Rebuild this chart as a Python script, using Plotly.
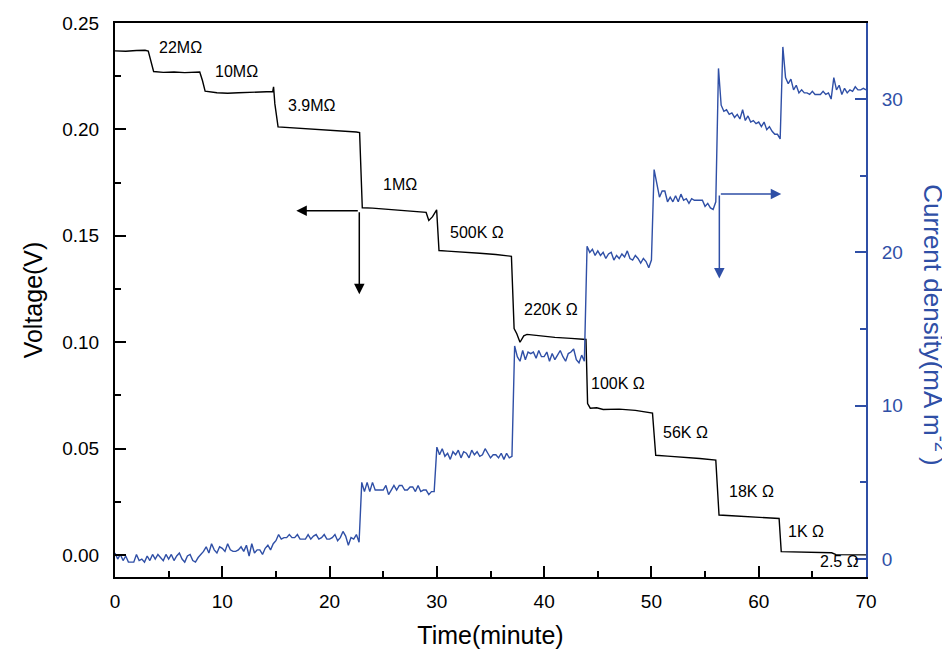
import plotly.graph_objects as go

# ---------------- data ----------------
volt_time = [0, 1.0, 2.0, 2.8, 3.1, 3.35, 3.6, 4.5, 5.5, 6.5,
             7.5, 7.9, 8.15, 8.4, 9.5, 10.5, 11.5, 12.5, 13.5, 14.7,
             14.78, 14.9, 15.2, 16.5, 18.0, 19.5, 21.0, 22.5, 22.8, 23.05,
             24.0, 25.5, 27.0, 28.5, 29.0, 29.25, 29.6, 29.98, 30.2, 31.0,
             32.5, 34.0, 35.5, 36.95, 37.2, 37.45, 37.75, 38.1, 38.4, 39.5,
             41.0, 42.5, 43.9, 44.05, 44.3, 44.9, 45.5, 47.0, 48.5, 50.1,
             50.4, 51.5, 53.0, 54.5, 56.0, 56.3, 57.5, 59.0, 60.5, 61.9,
             62.1, 63.5, 65.0, 66.8, 67.2, 68.5, 70.0]
volt_value = [0.2369, 0.2367, 0.2371, 0.2372, 0.2368, 0.2320, 0.2272, 0.2268, 0.2270, 0.2267,
              0.2271, 0.2270, 0.2230, 0.2180, 0.2172, 0.2170, 0.2172, 0.2174, 0.2175, 0.2178,
              0.2200, 0.2120, 0.2012, 0.2008, 0.2004, 0.2000, 0.1994, 0.1988, 0.1985, 0.1632,
              0.1630, 0.1625, 0.1620, 0.1614, 0.1610, 0.1572, 0.1590, 0.1622, 0.1431, 0.1428,
              0.1424, 0.1418, 0.1412, 0.1404, 0.1064, 0.1040, 0.1000, 0.1030, 0.1037, 0.1030,
              0.1023, 0.1018, 0.1013, 0.0712, 0.0690, 0.0692, 0.0684, 0.0686, 0.0680, 0.0667,
              0.0469, 0.0465, 0.0460, 0.0454, 0.0446, 0.0188, 0.0185, 0.0181, 0.0177, 0.0172,
              0.0016, 0.0015, 0.0014, 0.0011, 0.0002, 0.0001, 0.0001]

current_time = [
    0, 0.25, 0.5, 0.75, 1, 1.25, 1.5, 1.75, 2, 2.25, 2.5, 2.75, 3, 3.25, 3.5, 3.75, 4,
    4.25, 4.5, 4.75, 5, 5.25, 5.5, 5.75, 6, 6.25, 6.5, 6.75, 7, 7.25, 7.5, 7.75, 8,
    8.25, 8.5, 8.75, 9, 9.25, 9.5, 9.75, 10, 10.25, 10.5, 10.75, 11, 11.25, 11.5, 11.75,
    12, 12.25, 12.5, 12.75, 13, 13.25, 13.5, 13.75, 14, 14.25, 14.5,
    14.75, 15, 15.25, 15.5, 15.75, 16, 16.25, 16.5, 16.75, 17, 17.25, 17.5, 17.75, 18,
    18.25, 18.5, 18.75, 19, 19.25, 19.5, 19.75, 20, 20.25, 20.5, 20.75, 21, 21.25, 21.5,
    21.75, 22, 22.25, 22.5, 22.75,
    23, 23.25, 23.5, 23.75, 24, 24.25, 24.5, 24.75, 25, 25.25, 25.5, 25.75, 26, 26.25,
    26.5, 26.75, 27, 27.25, 27.5, 27.75, 28, 28.25, 28.5, 28.75, 29, 29.25, 29.5, 29.75,
    30, 30.25, 30.5, 30.75, 31, 31.25, 31.5, 31.75, 32, 32.25, 32.5, 32.75, 33, 33.25,
    33.5, 33.75, 34, 34.25, 34.5, 34.75, 35, 35.25, 35.5, 35.75, 36, 36.25, 36.5, 36.75, 37,
    37.25, 37.5, 37.75, 38, 38.25, 38.5, 38.75, 39, 39.25, 39.5, 39.75, 40, 40.25, 40.5,
    40.75, 41, 41.25, 41.5, 41.75, 42, 42.25, 42.5, 42.75, 43, 43.25, 43.5, 43.75,
    44, 44.25, 44.5, 44.75, 45, 45.25, 45.5, 45.75, 46, 46.25, 46.5, 46.75, 47, 47.25,
    47.5, 47.75, 48, 48.25, 48.5, 48.75, 49, 49.25, 49.5, 49.75, 50,
    50.25, 50.5, 50.75, 51, 51.25, 51.5, 51.75, 52, 52.25, 52.5, 52.75, 53, 53.25, 53.5,
    53.75, 54, 54.25, 54.5, 54.75, 55, 55.25, 55.5, 55.75, 56,
    56.25, 56.5, 56.75, 57, 57.25, 57.5, 57.75, 58, 58.25, 58.5, 58.75, 59, 59.25, 59.5,
    59.75, 60, 60.25, 60.5, 60.75, 61, 61.25, 61.5, 61.75, 62,
    62.25, 62.5, 62.75, 63, 63.25, 63.5, 63.75, 64, 64.25, 64.5, 64.75, 65, 65.25, 65.5,
    65.75, 66, 66.25, 66.5, 66.75, 67, 67.25, 67.5, 67.75, 68, 68.25, 68.5, 68.75, 69,
    69.25, 69.5, 69.75, 70]

current_22M_10M = [0.4, 0.0, 0.3, -0.1, 0.2, -0.2, -0.2, -0.2, 0.3, -0.1, 0.0, -0.2, 0.2, -0.1,
                   0.3, 0.0, 0.3, 0.1, -0.1, 0.3, 0.0, 0.3, -0.1, 0.2, 0.4, 0.0, -0.2, 0.2,
                   0.3, -0.1, -0.2, 0.1, 0.3]
current_10M = [0.5, 0.8, 0.4, 1.0, 0.6, 0.4, 0.8, 0.7, 0.5, 1.0, 0.6, 0.5, 0.5, 0.6, 0.8,
               0.5, 0.9, 0.2, 1.0, 0.4, 0.6, 0.6, 0.3, 0.7, 0.9, 0.6]
current_3M9 = [1.0, 1.2, 1.6, 1.3, 1.4, 1.4, 1.6, 1.4, 1.4, 1.6, 1.3, 1.3, 1.3, 1.6, 1.3,
               1.5, 1.6, 1.3, 1.4, 1.6, 1.3, 1.3, 1.4, 1.6, 1.2, 1.4, 1.8, 1.5, 0.9, 1.4,
               1.3, 1.6, 1.1]
current_1M = [5.0, 4.4, 5.0, 4.4, 5.0, 4.5, 4.5, 4.5, 4.5, 4.8, 4.2, 4.5, 4.8, 4.5, 4.8,
              4.8, 4.5, 4.5, 4.7, 4.7, 4.4, 4.8, 4.4, 4.5, 4.5, 4.2, 4.4, 4.4]
current_500K = [7.3, 6.8, 7.2, 6.7, 6.9, 6.5, 7.0, 6.8, 7.1, 6.6, 7.0, 6.9, 6.6, 7.1, 6.8,
                7.0, 6.7, 6.8, 7.2, 6.9, 6.6, 6.8, 6.8, 6.6, 6.9, 6.5, 6.9, 6.6, 6.7]
current_220K = [13.9, 13.2, 12.9, 13.6, 13.0, 13.5, 13.4, 13.5, 13.1, 13.6, 13.2, 13.2, 13.5,
                12.9, 13.4, 13.0, 13.3, 13.6, 13.2, 12.9, 13.4, 13.5, 13.7, 13.0, 12.8, 13.3,
                12.9]
current_100K = [20.4, 20.0, 20.2, 19.8, 20.1, 19.8, 20.0, 19.6, 19.9, 20.0, 19.5, 19.8, 19.6,
                19.9, 19.7, 20.1, 19.6, 19.5, 19.8, 19.6, 19.3, 19.6, 19.4, 19.0, 19.5]
current_56K = [25.4, 24.6, 23.6, 24.0, 24.0, 23.3, 23.6, 23.3, 23.7, 23.3, 23.8, 23.4, 23.5,
               23.2, 23.5, 23.4, 23.4, 23.4, 23.4, 23.0, 23.2, 22.9, 22.8, 23.3]
current_18K = [32.0, 29.6, 29.2, 29.3, 29.0, 29.1, 28.8, 29.0, 28.7, 29.3, 28.6, 28.9, 28.5,
               28.6, 28.4, 28.5, 28.2, 28.5, 28.0, 28.2, 27.9, 27.7, 27.7, 27.4]
current_1K = [33.4, 31.4, 31.0, 31.3, 30.6, 30.9, 30.4, 30.6, 30.4, 30.4, 30.3, 30.5, 30.3,
              30.3, 30.3, 30.5, 30.3, 30.4, 30.0, 31.4, 30.6, 30.9, 30.3, 30.7, 30.4, 30.6,
              30.5, 30.8, 30.6, 30.6, 30.7, 30.6]

current_value = (current_22M_10M + current_10M + current_3M9 + current_1M + current_500K
                 + current_220K + current_100K + current_56K + current_18K + current_1K)

resistor_labels = ["22MΩ", "10MΩ", "3.9MΩ", "1MΩ", "500K Ω", "220K Ω",
                   "100K Ω", "56K Ω", "18K Ω", "1K Ω", "2.5 Ω"]
label_time = [6.06, 11.37, 18.33, 26.6, 33.74, 40.68, 46.85, 53.15, 59.32, 64.4, 67.57]
label_volt = [0.2383, 0.2272, 0.2114, 0.1743, 0.1517, 0.1152, 0.0805, 0.0578, 0.0297, 0.0109, -0.0031]

x_ticks = [0, 10, 20, 30, 40, 50, 60, 70]
y_ticks = [0.00, 0.05, 0.10, 0.15, 0.20, 0.25]
y2_ticks = [0, 10, 20, 30]

BLUE = "#2F4FA6"
FONT = "Liberation Sans, Arial, sans-serif"

fig = go.Figure()
fig.add_trace(go.Scatter(x=volt_time, y=volt_value, mode="lines",
                         line=dict(color="black", width=1.4), showlegend=False))
fig.add_trace(go.Scatter(x=current_time, y=current_value, mode="lines", yaxis="y2",
                         line=dict(color=BLUE, width=1.4), showlegend=False))

annotations = []
for txt, tx, ty in zip(resistor_labels, label_time, label_volt):
    annotations.append(dict(text=txt, x=tx, y=ty, xref="x", yref="y", showarrow=False,
                            font=dict(family=FONT, size=16, color="black"),
                            xanchor="center", yanchor="middle"))

# arrows (black -> left axis, blue -> right axis)
arrow_common = dict(text="", showarrow=True, arrowhead=2, arrowsize=1.4, arrowwidth=1.5,
                    axref="x")
annotations.append(dict(x=16.9, y=0.1618, ax=22.77, ay=0.1618, xref="x", yref="y",
                        ayref="y", arrowcolor="black", **arrow_common))
annotations.append(dict(x=22.77, y=0.1225, ax=22.77, ay=0.1618, xref="x", yref="y",
                        ayref="y", arrowcolor="black", **arrow_common))
annotations.append(dict(x=62.1, y=23.8, ax=56.33, ay=23.8, xref="x", yref="y2",
                        ayref="y2", arrowcolor=BLUE, **arrow_common))
annotations.append(dict(x=56.33, y=18.3, ax=56.33, ay=23.8, xref="x", yref="y2",
                        ayref="y2", arrowcolor=BLUE, **arrow_common))

# right axis title, reading top-to-bottom
annotations.append(dict(text="Current density(mA m<sup>-2 </sup>)", x=1.09, y=0.455,
                        xref="paper", yref="paper", showarrow=False, textangle=90,
                        font=dict(family=FONT, size=26, color=BLUE),
                        xanchor="center", yanchor="middle"))

# page body has an 8 px margin, so the figure is 942x648 and offset by 8 px
fig.update_layout(
    width=942, height=648,
    margin=dict(l=107, r=84, t=15, b=79),
    paper_bgcolor="white", plot_bgcolor="white",
    font=dict(family=FONT, color="black"),
    annotations=annotations,
    xaxis=dict(range=[0, 70], tickvals=x_ticks, ticks="inside", ticklen=11, tickwidth=1.5,
               tickcolor="black", showline=True, linecolor="black", linewidth=2,
               mirror=True, showgrid=False, zeroline=False, automargin=False,
               minor=dict(dtick=5, ticks="inside", ticklen=6, tickwidth=1.5, tickcolor="black"),
               tickfont=dict(size=19, family=FONT, color="black"), ticklabelstandoff=6,
               title=dict(text="Time(minute)", font=dict(size=25, family=FONT), standoff=16)),
    yaxis=dict(range=[-0.0103, 0.25], tickvals=y_ticks, tickformat=".2f",
               ticks="inside", ticklen=11, tickwidth=1.5, tickcolor="black",
               showline=True, linecolor="black", linewidth=2, mirror=False,
               showgrid=False, zeroline=False, automargin=False,
               minor=dict(dtick=0.025, ticks="inside", ticklen=6, tickwidth=1.5,
                          tickcolor="black"),
               tickfont=dict(size=19, family=FONT, color="black"), ticklabelstandoff=10,
               title=dict(text="Voltage(V)", font=dict(size=25, family=FONT), standoff=12)),
    yaxis2=dict(range=[-1.17, 34.96], tickvals=y2_ticks, overlaying="y", side="right",
                ticks="inside", ticklen=11, tickwidth=1.5, tickcolor=BLUE,
                showline=True, linecolor=BLUE, linewidth=2, automargin=False,
                showgrid=False, zeroline=False,
                minor=dict(dtick=5, ticks="inside", ticklen=6, tickwidth=1.5, tickcolor=BLUE),
                tickfont=dict(size=19, family=FONT, color=BLUE), ticklabelstandoff=10),
)

fig.write_html("out.html")
